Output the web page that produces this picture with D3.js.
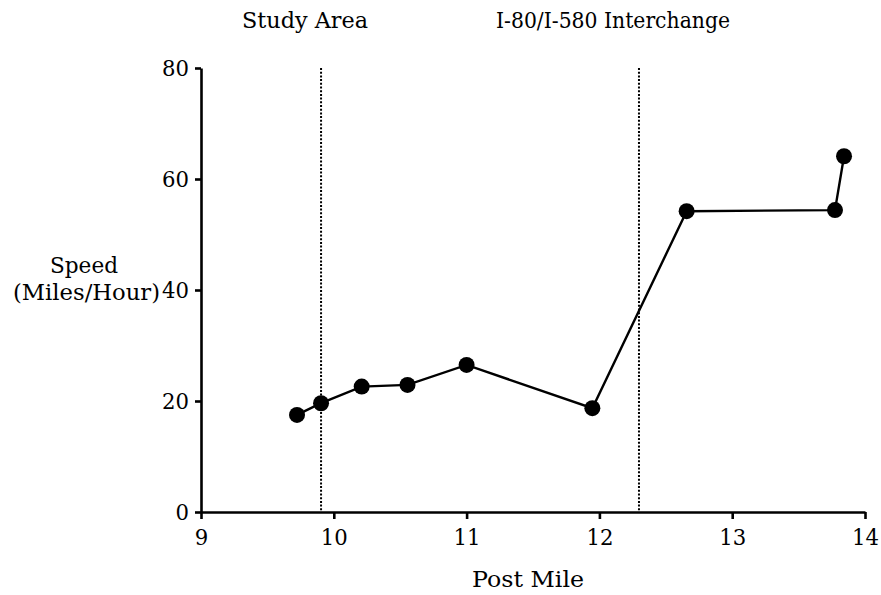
<!DOCTYPE html>
<html><head><meta charset="utf-8">
<script src="https://cdn.jsdelivr.net/npm/d3@7"></script>
<style>body{margin:0;background:#fff}text{font-family:"DejaVu Serif",serif;fill:#000}</style>
</head><body>
<svg id="c" width="881" height="595"></svg>
<script>
const postMile = [9.723, 9.904, 10.21, 10.555, 11.0, 11.947, 12.657, 13.774, 13.842];
const speed    = [17.5, 19.6, 22.6, 22.9, 26.5, 18.7, 54.2, 54.4, 64.1];
const markers  = [9.904, 12.298];
const markerLabels = ["Study Area", "I-80/I-580 Interchange"];
const xTicks = [9, 10, 11, 12, 13, 14];
const yTicks = [0, 20, 40, 60, 80];

const svg = d3.select("#c");
const x = d3.scaleLinear().domain([9, 14]).range([201, 865]);
const y = d3.scaleLinear().domain([0, 80]).range([512, 68]);
const fs = 22;
const ff = '"DejaVu Serif",serif';
const digitW = 13.5;

const xa = svg.append("g").attr("transform", "translate(0,512)")
  .call(d3.axisBottom(x).tickValues(xTicks).tickFormat(d3.format("d")).tickSize(7).tickSizeOuter(0).tickPadding(10));
const ya = svg.append("g").attr("transform", "translate(201,0)")
  .call(d3.axisLeft(y).tickValues(yTicks).tickFormat(d3.format("d")).tickSize(6).tickSizeOuter(0).tickPadding(6));
[xa, ya].forEach(a => {
  a.attr("font-size", fs).attr("font-family", ff);
  a.select(".domain").attr("stroke", "#000").attr("stroke-width", 2.6);
  a.selectAll(".tick line").attr("stroke", "#000").attr("stroke-width", 2.6);
  a.selectAll(".tick text").attr("fill", "#000")
    .attr("textLength", function() { return this.textContent.length * digitW; })
    .attr("lengthAdjust", "spacingAndGlyphs");
});

svg.selectAll(".vline").data(markers).enter().append("line")
  .attr("x1", d => x(d)).attr("x2", d => x(d))
  .attr("y1", y(80)).attr("y2", y(0))
  .attr("stroke", "#000").attr("stroke-width", 2).attr("stroke-dasharray", "2,1.7");

const pts = postMile.map((d, i) => [d, speed[i]]);
svg.append("path").datum(pts)
  .attr("d", d3.line().x(d => x(d[0])).y(d => y(d[1])))
  .attr("fill", "none").attr("stroke", "#000").attr("stroke-width", 2.4);
svg.selectAll(".pt").data(pts).enter().append("circle")
  .attr("cx", d => x(d[0])).attr("cy", d => y(d[1])).attr("r", 8).attr("fill", "#000");

function label(txt, cx, by, w, size) {
  svg.append("text").attr("x", cx).attr("y", by).attr("text-anchor", "middle")
    .attr("font-size", size || fs).attr("textLength", w).attr("lengthAdjust", "spacingAndGlyphs").text(txt);
}
label(markerLabels[0], 305, 28, 126);
label(markerLabels[1], 613, 28, 234);
label("Post Mile", 528, 587, 112, 23);
label("Speed", 84, 273, 68);
label("(Miles/Hour)", 86.5, 300, 147);
</script>
</body></html>
